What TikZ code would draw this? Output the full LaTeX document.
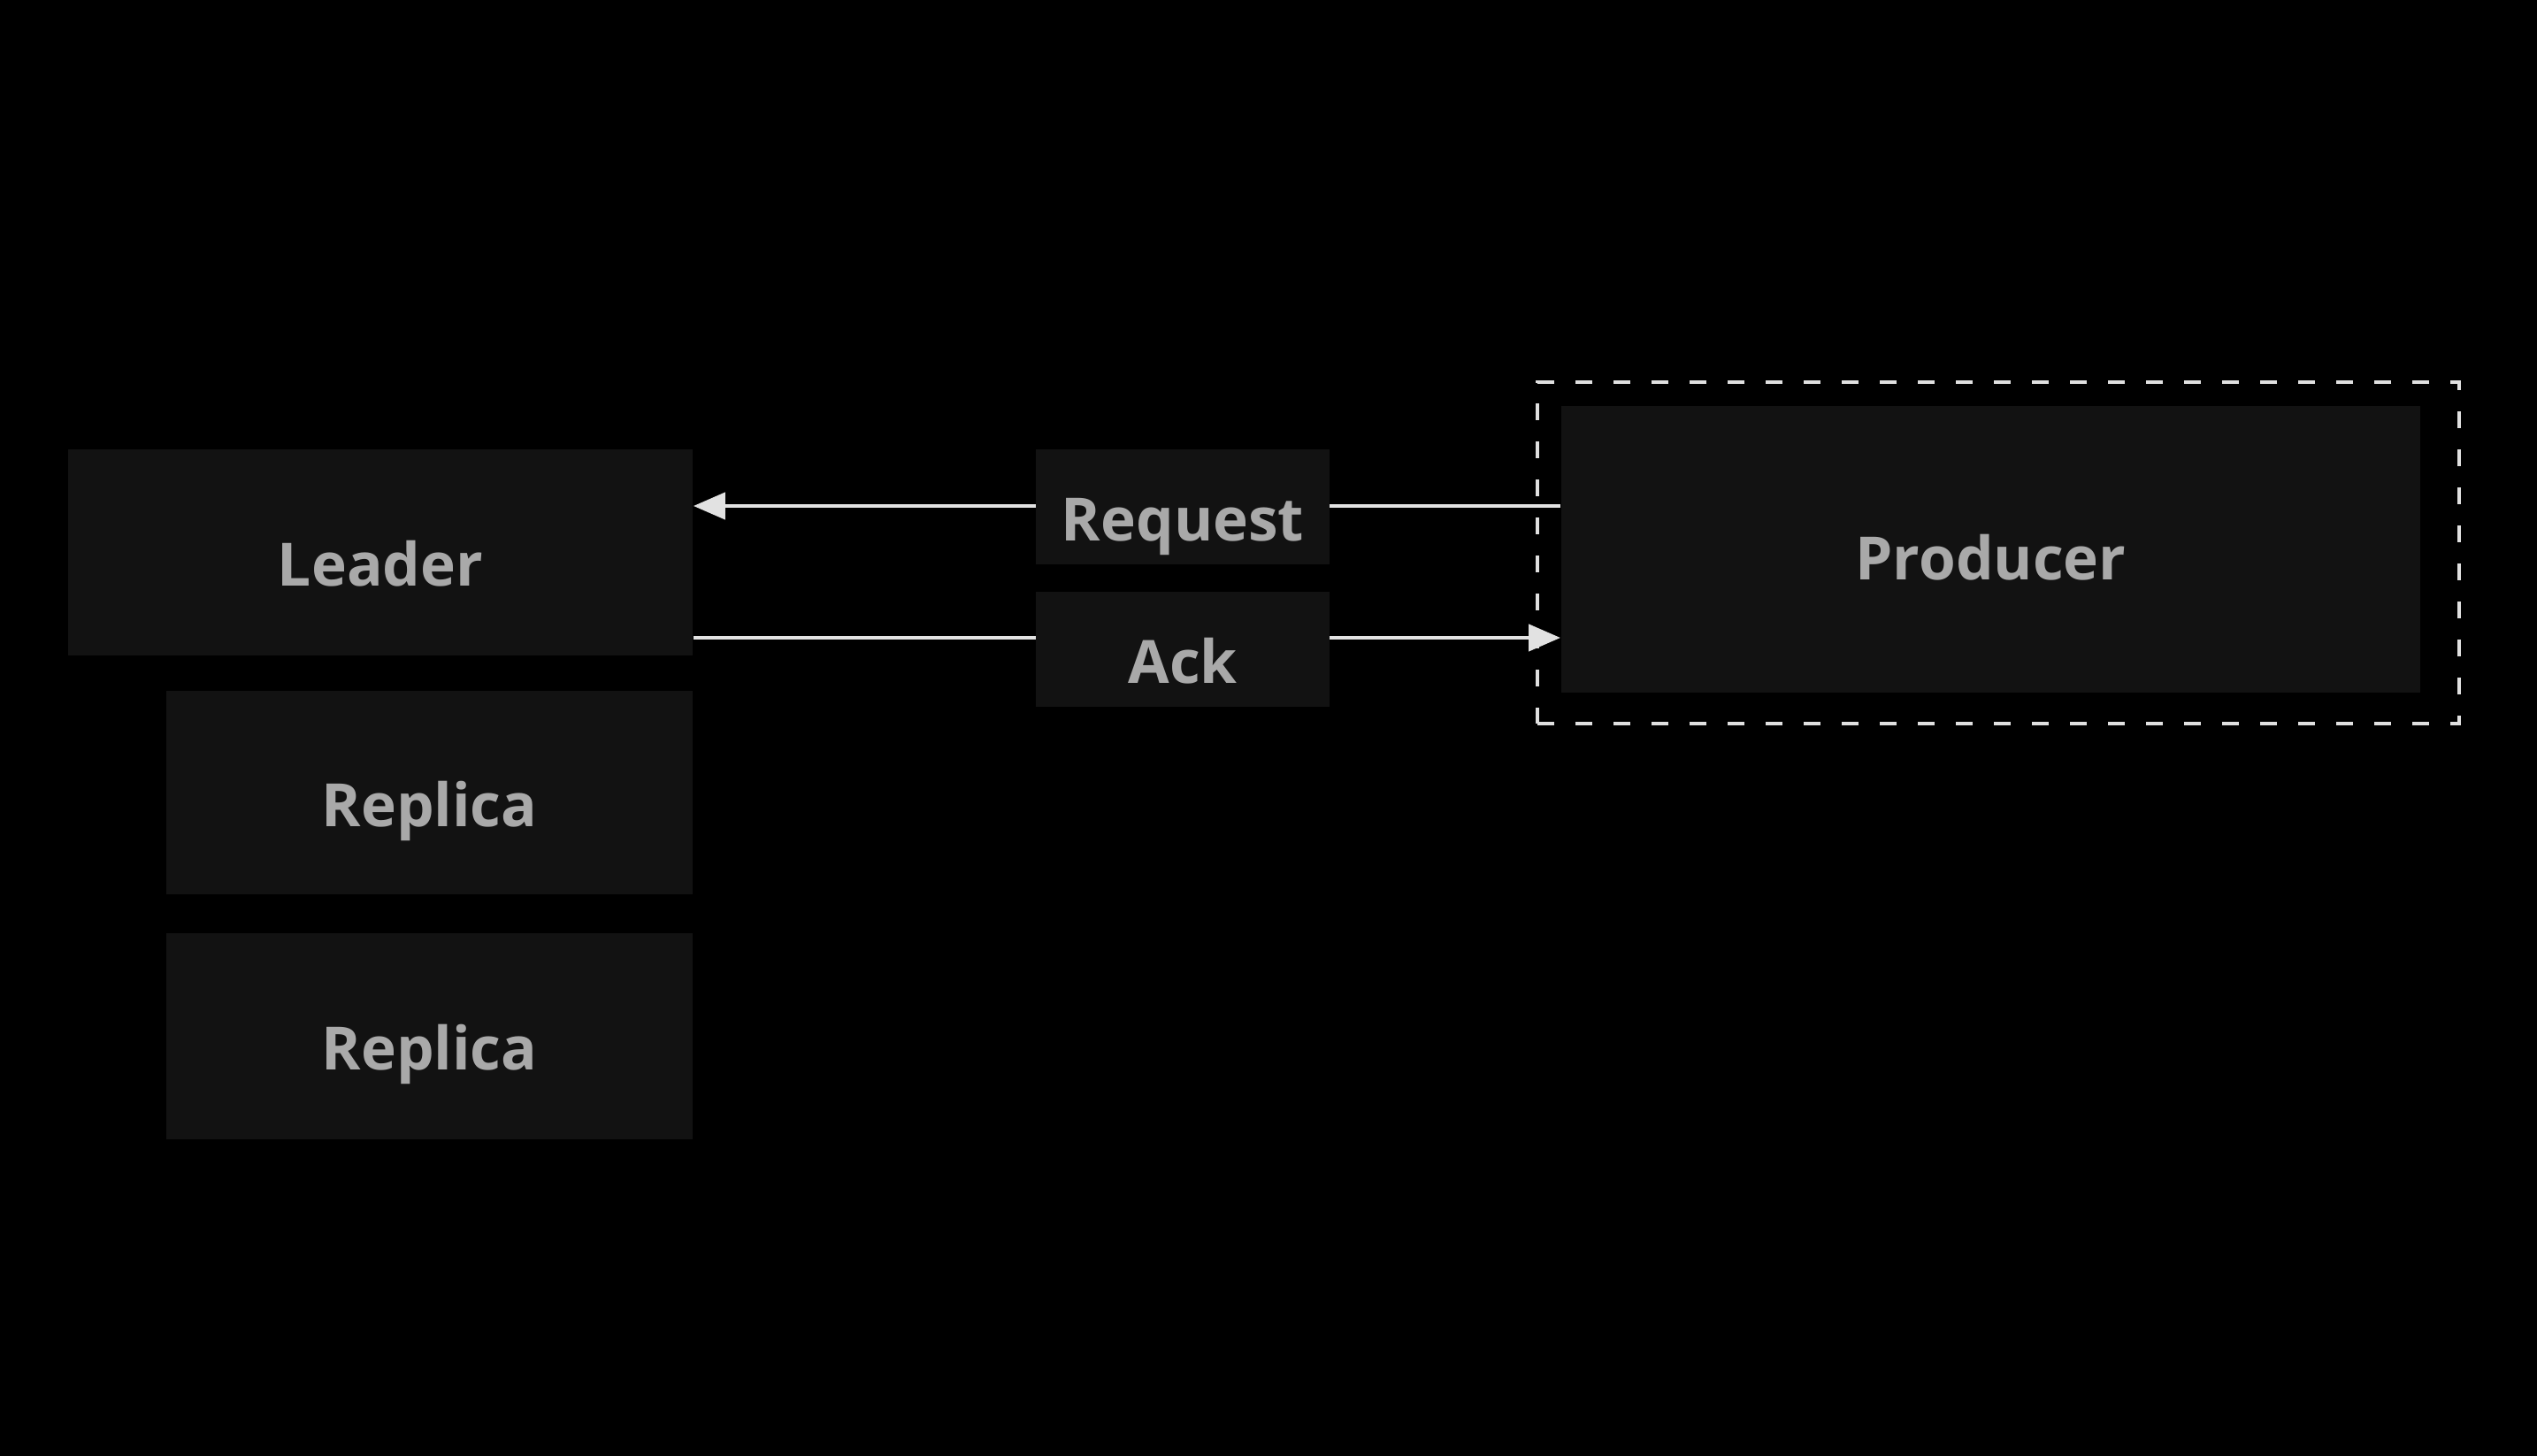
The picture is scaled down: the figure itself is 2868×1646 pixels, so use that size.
\documentclass[tikz,border=0pt]{standalone}
\usepackage{fontspec}
\setmainfont{Open Sans}
\usetikzlibrary{arrows.meta}
\definecolor{bg}{HTML}{000000}
\definecolor{boxfill}{HTML}{121212}
\definecolor{txt}{HTML}{A9A9A9}
\definecolor{wire}{HTML}{E2E2E2}
\begin{document}
\begin{tikzpicture}[x=0.01cm,y=-0.01cm,
  blk/.style={fill=boxfill,draw=none,inner sep=0pt,text=txt,
    text height=0.76cm,text depth=0pt,
    font=\fontsize{19.2}{23}\selectfont\bfseries},
  lbl/.style={blk,minimum width=3.32cm,minimum height=1.30cm},
  wireline/.style={draw=wire,line width=0.045cm,-{Triangle[length=0.36cm,width=0.3cm]}}]
\fill[bg] (0,0) rectangle (2868,1646);
\useasboundingbox (0,0) rectangle (2868,1646);
% nodes
\node[blk,minimum width=7.06cm,minimum height=2.33cm] (leader) at (430,624.5) {Leader};
\node[blk,minimum width=5.95cm,minimum height=2.30cm] (rep1) at (485.5,896) {Replica};
\node[blk,minimum width=5.95cm,minimum height=2.33cm] (rep2) at (485.5,1171.5) {Replica};
\node[blk,minimum width=9.71cm,minimum height=3.24cm,text height=0.68cm] (prod) at (2250.5,621) {Producer};
\node[draw=white!88!black,dash pattern=on 0.19cm off 0.24cm,line width=0.04cm,
  minimum width=10.42cm,minimum height=3.86cm,inner sep=0pt] (group) at (2259,625) {};
% connector anchors
\coordinate (reqS) at (prod.west |- 0,572);
\coordinate (reqE) at (leader.east |- 0,572);
\coordinate (ackS) at (leader.east |- 0,721);
\coordinate (ackE) at (prod.west |- 0,721);
\draw[wireline] (reqS) -- (reqE);
\draw[wireline] (ackS) -- (ackE);
% labels on top of wires
\node[lbl] (req) at (1337,573) {Request};
\node[lbl] (ack) at (1337,734) {Ack};
\end{tikzpicture}
\end{document}
